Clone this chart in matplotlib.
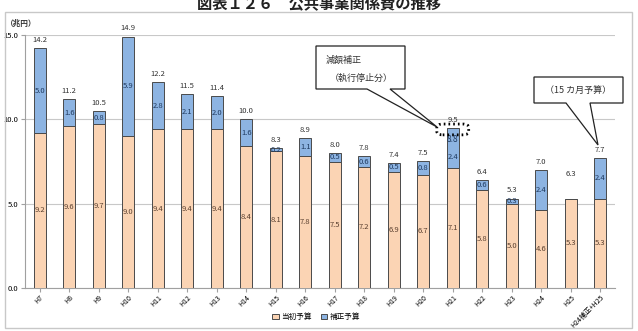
import matplotlib.pyplot as plt
from matplotlib.patches import Rectangle, FancyBboxPatch, Polygon
import numpy as np

plt.rcParams['font.family'] = ['Noto Sans CJK JP', 'DejaVu Sans']

years = ['H7', 'H8', 'H9', 'H10', 'H11', 'H12', 'H13', 'H14', 'H15', 'H16',
         'H17', 'H18', 'H19', 'H20', 'H21', 'H22', 'H23', 'H24', 'H25', 'H24補正+H25']
initial = [9.2, 9.6, 9.7, 9.0, 9.4, 9.4, 9.4, 8.4, 8.1, 7.8,
           7.5, 7.2, 6.9, 6.7, 7.1, 5.8, 5.0, 4.6, 5.3, 5.3]
supplement = [5.0, 1.6, 0.8, 5.9, 2.8, 2.1, 2.0, 1.6, 0.2, 1.1,
              0.5, 0.6, 0.5, 0.8, 2.4, 0.6, 0.3, 2.4, 0.0, 2.4]
totals = [14.2, 11.2, 10.5, 14.9, 12.2, 11.5, 11.4, 10.0, 8.3, 8.9,
          8.0, 7.8, 7.4, 7.5, 9.5, 6.4, 5.3, 7.0, 6.3, 7.7]
h21_after_cut = 8.8

c_init = '#FBD4B4'
c_supp = '#8DB4E2'
edge = '#4a4a4a'

W, H = 638, 331
fig = plt.figure(figsize=(W / 100, H / 100), dpi=100)


def fx(px):
    return px / W


def fy(py):
    return 1 - py / H


# outer chart frame
fig.patches.append(Rectangle((fx(5), fy(328)), fx(627), 316 / H, transform=fig.transFigure,
                             fill=False, edgecolor='#c8c8c8', linewidth=1.0))

# title (the source crops its upper half)
fig.text(0.5, fy(3), '図表１２６　公共事業関係費の推移', ha='center', va='center',
         fontsize=11, fontweight='bold', color='#222222')

ax = fig.add_axes([fx(25), fy(288), fx(590), (288 - 35) / H])
x = np.arange(len(years))
bw = 0.42
ax.bar(x, initial, bw, color=c_init, edgecolor=edge, linewidth=0.7, label='当初予算', zorder=3)
ax.bar(x, supplement, bw, bottom=initial, color=c_supp, edgecolor=edge, linewidth=0.7,
       label='補正予算', zorder=3)

ax.set_xlim(-0.5, len(years) - 0.5)
ax.set_ylim(0, 15)
ax.set_yticks([0, 5, 10, 15])
ax.set_yticklabels(['0.0', '5.0', '10.0', '15.0'])
ax.grid(axis='y', color='#c8c8c8', linewidth=0.8, zorder=0)
for s in ['top', 'right']:
    ax.spines[s].set_visible(False)
for s in ['left', 'bottom']:
    ax.spines[s].set_color('#a0a0a0')
ax.tick_params(axis='y', labelsize=5.5, length=3, color='#a0a0a0', pad=2)
ax.tick_params(axis='x', labelsize=5, length=3, color='#a0a0a0', pad=1)
ax.set_xticks(x)
ax.set_xticklabels(years, rotation=45, ha='right', rotation_mode='anchor')

fs = 5.5
i21 = years.index('H21')
for i in range(len(years)):
    ax.text(x[i], initial[i] / 2, f'{initial[i]:.1f}', ha='center', va='center',
            fontsize=fs, color='#5a4030', zorder=4)
    if supplement[i] > 0:
        ymid = initial[i] + supplement[i] / 2
        if i == i21:
            ymid = initial[i] + supplement[i] * 0.27
        ax.text(x[i], ymid, f'{supplement[i]:.1f}', ha='center',
                va='center', fontsize=fs, color='#1f3a60', zorder=4)
    ax.text(x[i], totals[i] + 0.25, f'{totals[i]:.1f}', ha='center', va='bottom',
            fontsize=fs, color='#333333', zorder=4)

ax.text(x[i21], h21_after_cut, f'{h21_after_cut:.1f}', ha='center', va='center',
        fontsize=6, color='#1f3a60', zorder=5)
# dotted box around H21 total
ax.add_patch(FancyBboxPatch((x[i21] - 0.52, totals[i21] - 0.4), 1.04, 0.6,
                            boxstyle='round,pad=0.02,rounding_size=0.2', fill=False,
                            edgecolor='black', linewidth=2.0, linestyle=(0, (0.6, 1.1)),
                            zorder=6, clip_on=False))

fig.text(fx(6), fy(23), '（兆円）', ha='left', va='center', fontsize=5.5, fontweight='bold',
         color='#333333')

# callout 1
tr = fig.transFigure
fig.patches.append(Polygon([(fx(316), fy(46)), (fx(405), fy(46)), (fx(405), fy(89)),
                            (fx(390), fy(89)), (fx(437), fy(127)), (fx(367), fy(89)),
                            (fx(316), fy(89))], closed=True, transform=tr,
                           facecolor='white', edgecolor='#222222', linewidth=0.9, zorder=10))
fig.text(fx(326), fy(60), '減額補正', fontsize=6.5, ha='left', va='center', color='#333333', zorder=11)
fig.text(fx(330), fy(78), '（執行停止分）', fontsize=6.5, ha='left', va='center', color='#333333', zorder=11)

# callout 2
fig.patches.append(Polygon([(fx(534), fy(77)), (fx(623), fy(77)), (fx(623), fy(103)),
                            (fx(590), fy(103)), (fx(598), fy(145)), (fx(566), fy(103)),
                            (fx(534), fy(103))], closed=True, transform=tr,
                           facecolor='white', edgecolor='#222222', linewidth=0.9, zorder=10))
fig.text(fx(578), fy(90), '（15 カ月予算）', fontsize=6.5, ha='center', va='center',
         color='#333333', zorder=11)

fig.legend(loc='center', bbox_to_anchor=(fx(316), fy(317)), ncol=2, fontsize=5.5, frameon=False,
           handlelength=0.9, handleheight=0.7, columnspacing=1.2, handletextpad=0.3)

fig.savefig('out.png', dpi=100)
